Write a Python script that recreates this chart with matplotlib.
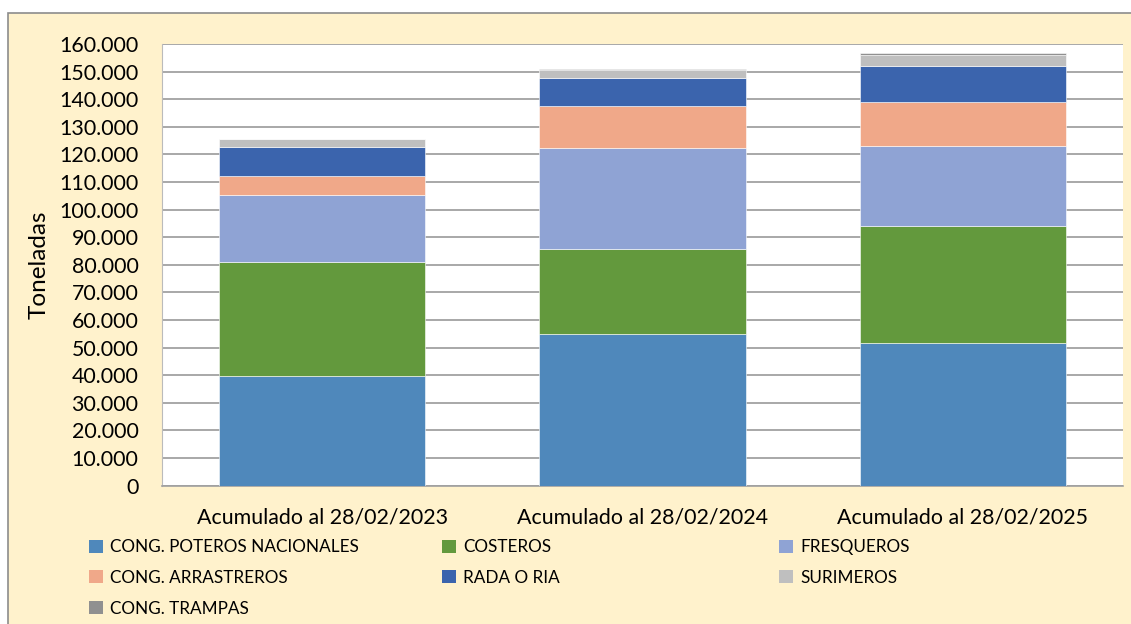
import matplotlib.pyplot as plt
from matplotlib.patches import Rectangle
from matplotlib.ticker import FuncFormatter
import numpy as np

plt.rcParams['font.family'] = ['Lato', 'DejaVu Sans']

# data (toneladas)
periodos = ["Acumulado al 28/02/2023", "Acumulado al 28/02/2024", "Acumulado al 28/02/2025"]
flotas = ["CONG. POTEROS NACIONALES", "COSTEROS", "FRESQUEROS",
          "CONG. ARRASTREROS", "RADA O RIA", "SURIMEROS", "CONG. TRAMPAS"]
poteros = [39700, 54800, 51600]
costeros = [41200, 30800, 42500]
fresqueros = [24300, 36600, 29100]
arrastreros = [6800, 15200, 15600]
rada = [10700, 10200, 13300]
surimeros = [2700, 3100, 3900]
trampas = [200, 300, 700]
valores = [poteros, costeros, fresqueros, arrastreros, rada, surimeros, trampas]
colores = ['#4F88BB', '#63993D', '#8FA3D4', '#F0A889', '#3B64AD', '#BFBFBF', '#909090']

fs_leg = 12.3
fs_tick = 15.4

fig = plt.figure(figsize=(11.31, 6.24), dpi=100)
fig.patch.set_facecolor('white')
# cream chart frame (cropped at right and bottom)
fig.patches.append(Rectangle((8 / 1131, -0.05), 1.1, 1 - 13 / 624 + 0.05,
                             transform=fig.transFigure, facecolor='#FFF2CC',
                             edgecolor='#8C8C8C', linewidth=1.2, zorder=-5))

ax = fig.add_axes([162 / 1131, 1 - 485.5 / 624, 961 / 1131, 441.5 / 624])
ax.set_facecolor('white')

x = np.arange(len(periodos))
base = np.zeros(len(periodos))
for vals, col, nombre in zip(valores, colores, flotas):
    ax.bar(x, vals, 0.645, bottom=base, color=col, edgecolor='#FFFFFF',
           linewidth=0.4, label=nombre, zorder=3)
    base += np.array(vals)

ax.set_xlim(-0.5, 2.5)
ax.set_ylim(0, 160000)
ax.set_yticks(np.arange(0, 160001, 10000))
ax.yaxis.set_major_formatter(FuncFormatter(lambda v, p: f"{int(v):,}".replace(",", ".")))
ax.set_xticks(x)
ax.set_xticklabels(periodos)
ax.tick_params(axis='both', length=0, labelsize=fs_tick, colors='black')
ax.tick_params(axis='y', pad=17)
ax.tick_params(axis='x', pad=15.5)
ax.grid(axis='y', color='#999999', linewidth=1.2, zorder=0)
ax.set_axisbelow(True)
for s in ['top', 'right']:
    ax.spines[s].set_visible(False)
ax.spines['left'].set_color('#BBBBBB')
ax.spines['bottom'].set_color('#A0A0A0')
ax.spines['bottom'].set_linewidth(1.2)

ax.set_ylabel("Toneladas", fontsize=17.5)
ax.yaxis.set_label_coords(-0.117, 0.5)

# legend, three fixed columns like the original
handles, labels = ax.get_legend_handles_labels()
columnas = [[0, 3, 6], [1, 4], [2, 5]]
x_col = [89 / 1131, 442 / 1131, 779 / 1131]
for idx, xc in zip(columnas, x_col):
    leg = fig.legend([handles[i] for i in idx], [labels[i] for i in idx],
                     loc='upper left', bbox_to_anchor=(xc, 1 - 539 / 624),
                     frameon=False, fontsize=fs_leg, handlelength=0.8,
                     handleheight=0.8, handletextpad=0.45, labelspacing=0.87,
                     borderaxespad=0, borderpad=0)
    for h in leg.legend_handles:
        h.set_edgecolor('none')

fig.savefig("out.png", dpi=100)
